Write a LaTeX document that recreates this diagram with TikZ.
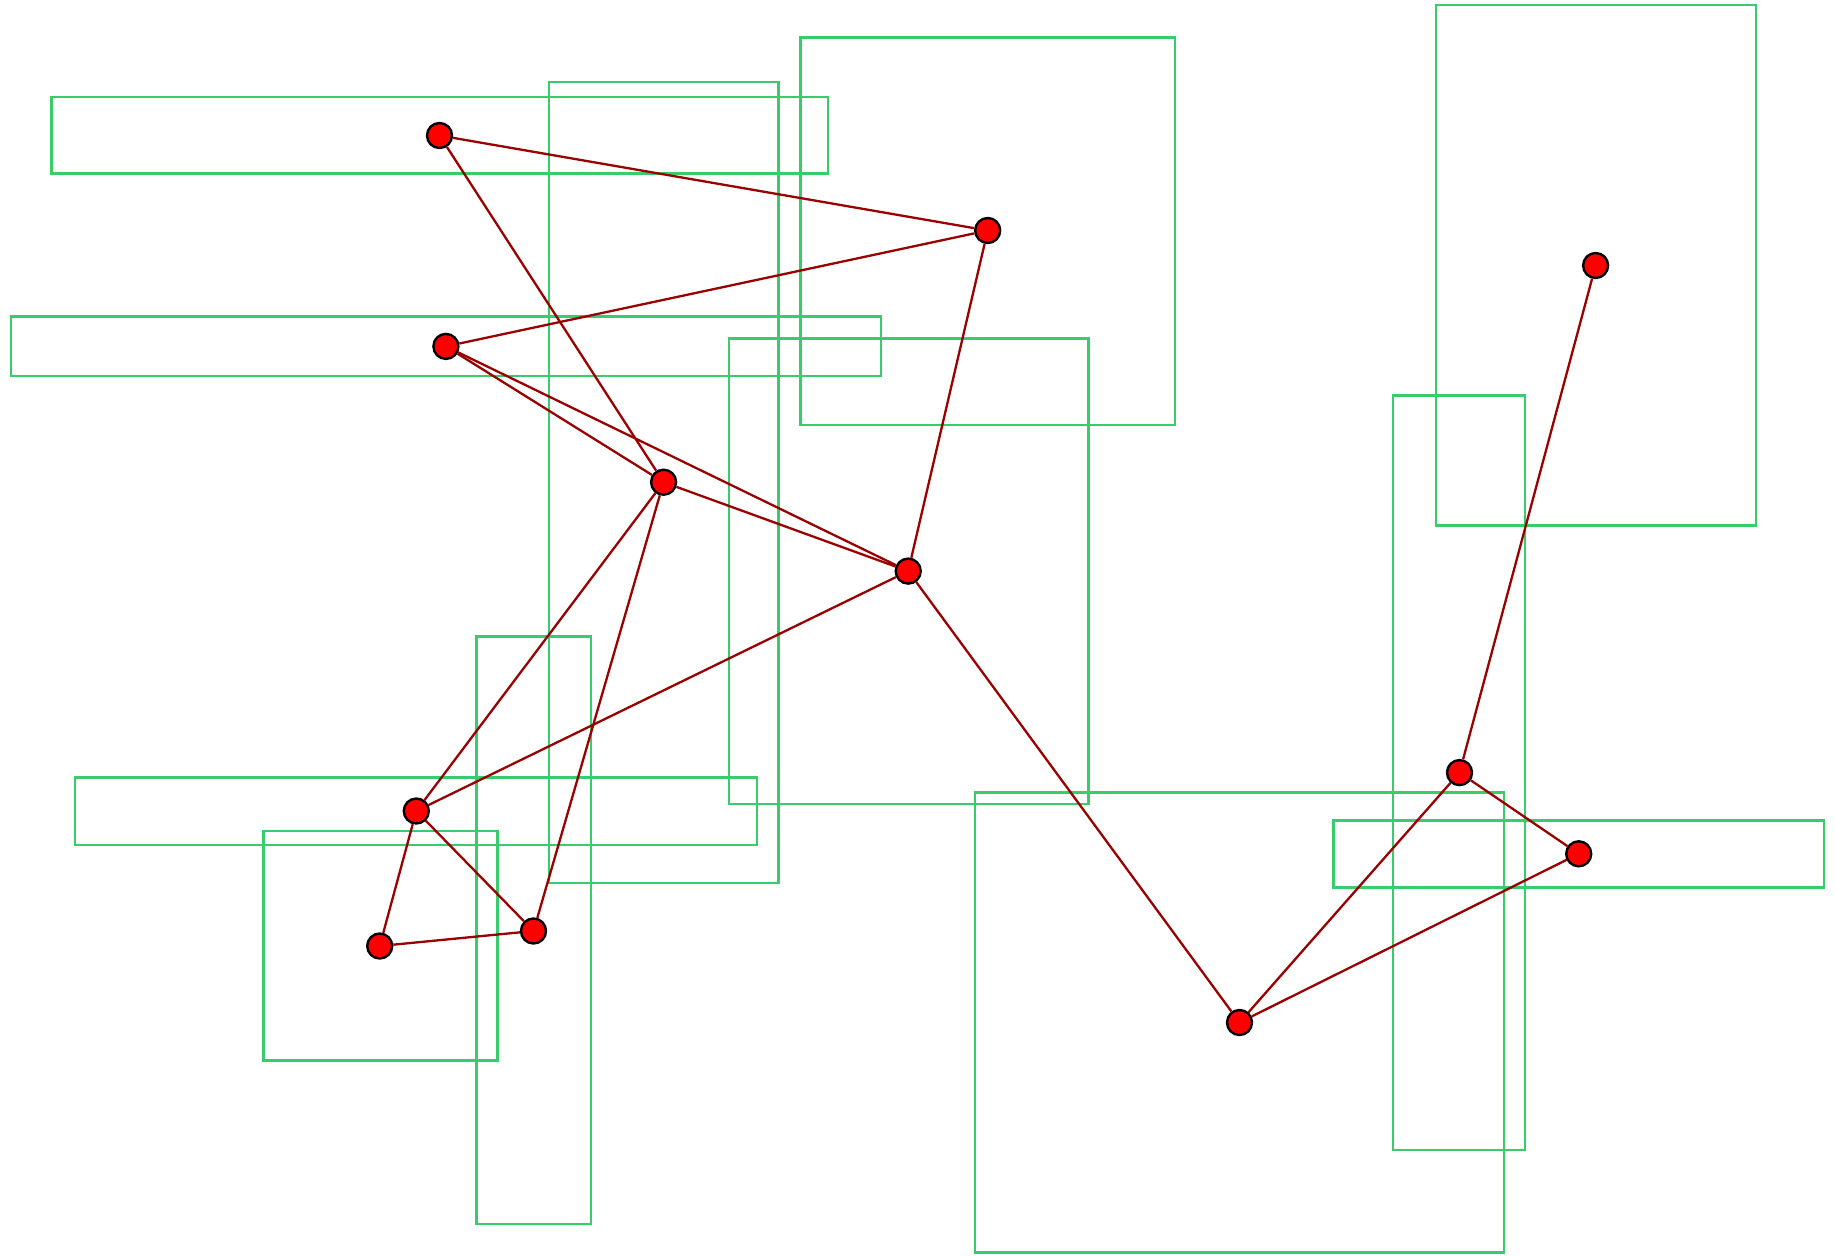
\documentclass[tikz,border=0pt]{standalone}
\usepackage{tikz}
\usetikzlibrary{positioning}
\usepackage{xcolor}
\definecolor{gbox}{RGB}{56,204,108}
\definecolor{gedge}{RGB}{153,0,0}
\definecolor{gnode}{RGB}{255,0,0}

\begin{document}
\begin{tikzpicture}[
    x=1pt, y=-1pt,
    vertex/.style={circle, draw=black, fill=gnode, line width=2.4pt, inner sep=0pt, minimum size=25pt},
    region/.style={draw=gbox, line width=2.4pt},
    link/.style={draw=gedge, line width=2.3pt}
]
\useasboundingbox (0,0) rectangle (1835,1255);

% Regions
\draw[region] (51.5,97.1) rectangle (827.8,173.3);
\draw[region] (549,82) rectangle (778.6,883);
\draw[region] (800.6,37.4) rectangle (1175,424.8);
\draw[region] (1436,4.8) rectangle (1756,525.5);
\draw[region] (11,316.3) rectangle (881.2,375.8);
\draw[region] (729.1,338.4) rectangle (1088.4,804);
\draw[region] (1393.2,395.6) rectangle (1525,1150);
\draw[region] (476.5,636.6) rectangle (591.2,1224.1);
\draw[region] (74.9,777.4) rectangle (757.2,845);
\draw[region] (263.3,830.8) rectangle (497.6,1060.6);
\draw[region] (975.2,792.3) rectangle (1504.2,1252.4);
\draw[region] (1333.5,820.4) rectangle (1824,887.4);

% Vertices
\node[vertex] (v1) at (439.5,135.5) {};
\node[vertex] (v2) at (987.7,230.5) {};
\node[vertex] (v3) at (1595.6,265.5) {};
\node[vertex] (v4) at (445.9,346.4) {};
\node[vertex] (v5) at (663.6,482.2) {};
\node[vertex] (v6) at (908.2,571.1) {};
\node[vertex] (v7) at (1459.5,772.6) {};
\node[vertex] (v8) at (1578.7,853.8) {};
\node[vertex] (v9) at (416.3,811) {};
\node[vertex] (v10) at (533.5,931) {};
\node[vertex] (v11) at (379.7,946) {};
\node[vertex] (v12) at (1239.5,1022.5) {};

% Edges
\foreach \a/\b in {v1/v2, v1/v5, v2/v4, v2/v6, v4/v5, v4/v6, v5/v6, v5/v9,
                   v5/v10, v6/v9, v6/v12, v3/v7, v7/v8, v7/v12, v8/v12,
                   v9/v11, v9/v10, v11/v10} {
  \draw[link] (\a) -- (\b);
}

\end{tikzpicture}
\end{document}
